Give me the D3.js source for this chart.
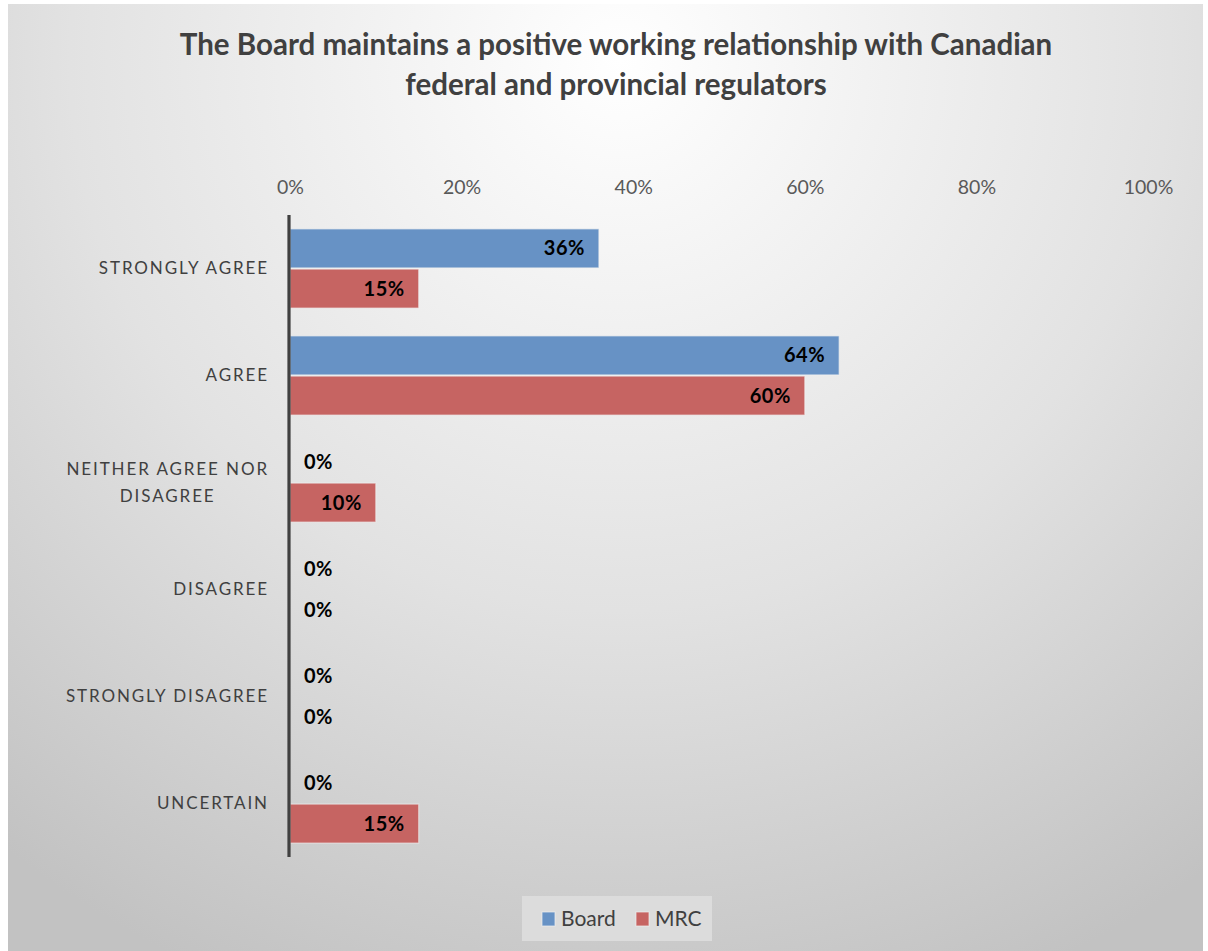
<!DOCTYPE html>
<html>
<head>
<meta charset="utf-8">
<script src="https://cdn.jsdelivr.net/npm/d3@7"></script>
<style>
  html, body { margin: 0; padding: 0; background: #ffffff; }
  svg { display: block; }
</style>
</head>
<body>
<script>
// Survey responses, share of respondents per answer
const categories = ["STRONGLY AGREE", "AGREE", "NEITHER AGREE NOR DISAGREE", "DISAGREE", "STRONGLY DISAGREE", "UNCERTAIN"];
const seriesNames = ["Board", "MRC"];
const boardValues = [0.36, 0.64, 0, 0, 0, 0];
const mrcValues = [0.15, 0.60, 0.10, 0, 0, 0.15];
const tickValues = [0, 0.2, 0.4, 0.6, 0.8, 1.0];
const titleLines = ["The Board maintains a positive working relationship with Canadian", "federal and provincial regulators"];
const colors = { Board: "#6792c5", MRC: "#c66462" };

const W = 1208, H = 951;
const FONT = "Lato, 'Open Sans', sans-serif";

const svg = d3.select("body").append("svg").attr("width", W).attr("height", H);

// background with soft radial shading
const defs = svg.append("defs");
const grad = defs.append("radialGradient")
  .attr("id", "bg").attr("gradientUnits", "userSpaceOnUse")
  .attr("cx", 620).attr("cy", 60).attr("r", 1000);
grad.append("stop").attr("offset", "0%").attr("stop-color", "#ffffff");
grad.append("stop").attr("offset", "55%").attr("stop-color", "#e2e2e2");
grad.append("stop").attr("offset", "100%").attr("stop-color", "#c2c2c2");

svg.append("rect").attr("x", 8).attr("y", 4).attr("width", 1195).attr("height", H - 4)
  .attr("fill", "url(#bg)");

// title
svg.append("g").selectAll("text").data(titleLines).join("text")
  .attr("x", 616).attr("y", (d, i) => 55 + i * 40)
  .attr("text-anchor", "middle")
  .attr("font-family", FONT).attr("font-weight", 700).attr("font-size", 29.5)
  .attr("fill", "#404040")
  .text(d => d);

// scales
const x = d3.scaleLinear().domain([0, 1]).range([290, 1148]);
const y = d3.scaleBand().domain(categories).range([215, 857]).paddingInner(0.26).paddingOuter(0.13);
const ySub = d3.scaleBand().domain(seriesNames).range([0, y.bandwidth()]).paddingInner(0.03);

// top axis (labels only)
const xAxis = d3.axisTop(x).tickValues(tickValues).tickFormat(d3.format(".0%")).tickSize(0).tickPadding(0);
const gx = svg.append("g").attr("transform", "translate(0,194)").call(xAxis);
gx.select(".domain").remove();
gx.selectAll("text").attr("font-family", FONT).attr("font-size", 19.5).attr("fill", "#595959");

// bars
const rows = categories.map((c, i) => ({ cat: c, Board: boardValues[i], MRC: mrcValues[i] }));
const groups = svg.append("g").selectAll("g").data(rows).join("g")
  .attr("transform", d => `translate(0,${y(d.cat)})`);

groups.selectAll("rect").data(d => seriesNames.map(s => ({ s, v: d[s] }))).join("rect")
  .filter(d => d.v > 0)
  .attr("x", x(0)).attr("y", d => ySub(d.s))
  .attr("width", d => x(d.v) - x(0)).attr("height", ySub.bandwidth())
  .attr("fill", d => colors[d.s])
  .attr("stroke", "#f2f2f2").attr("stroke-opacity", 0.6).attr("stroke-width", 1.2);

// value labels
const fmt = d3.format(".0%");
groups.selectAll("text").data(d => seriesNames.map(s => ({ s, v: d[s] }))).join("text")
  .attr("x", d => d.v > 0 ? x(d.v) - 14 : x(0) + 14)
  .attr("y", d => ySub(d.s) + ySub.bandwidth() / 2)
  .attr("dy", "0.35em")
  .attr("text-anchor", d => d.v > 0 ? "end" : "start")
  .attr("font-family", FONT).attr("font-weight", 700).attr("font-size", 20)
  .attr("letter-spacing", 0.5)
  .attr("fill", "#000000")
  .text(d => fmt(d.v));

// category axis line
svg.append("line").attr("x1", 289).attr("x2", 289).attr("y1", 215).attr("y2", 857)
  .attr("stroke", "#404040").attr("stroke-width", 3.2);

// category labels, long ones wrapped into a centred block
const wrapMap = { "NEITHER AGREE NOR DISAGREE": ["NEITHER AGREE NOR", "DISAGREE"] };
const catG = svg.append("g");
const LS = 1.9;
categories.forEach(c => {
  const cy = y(c) + y.bandwidth() / 2;
  const lines = wrapMap[c] || [c];
  const t = catG.append("text")
    .attr("font-family", FONT).attr("font-size", 17).attr("fill", "#404040")
    .attr("letter-spacing", LS);
  if (lines.length === 1) {
    t.attr("x", 269).attr("y", cy).attr("dy", "0.35em").attr("text-anchor", "end").text(c);
  } else {
    // measure widest line, center block then right-align block at 269
    const tmp = catG.append("text").attr("font-family", FONT).attr("font-size", 17)
      .attr("letter-spacing", LS).text(lines[0]);
    const w = tmp.node().getComputedTextLength();
    tmp.remove();
    const cx = 269 - w / 2;
    t.attr("text-anchor", "middle");
    lines.forEach((ln, i) => {
      t.append("tspan").attr("x", cx).attr("y", cy + (i - (lines.length - 1) / 2) * 27)
        .attr("dy", "0.35em").text(ln);
    });
  }
});

// legend
const lg = svg.append("g").attr("transform", "translate(522,896)");
lg.append("rect").attr("width", 190).attr("height", 45).attr("fill", "#dcdcdc");
const items = lg.selectAll("g").data(seriesNames).join("g")
  .attr("transform", (d, i) => `translate(${i === 0 ? 20 : 114},0)`);
items.append("rect").attr("x", 0).attr("y", 16).attr("width", 13).attr("height", 14)
  .attr("fill", d => colors[d]).attr("stroke", "#f2f2f2").attr("stroke-opacity", 0.7);
items.append("text").attr("x", 19).attr("y", 23).attr("dy", "0.35em")
  .attr("font-family", FONT).attr("font-size", 21).attr("fill", "#404040")
  .text(d => d);
</script>
</body>
</html>
